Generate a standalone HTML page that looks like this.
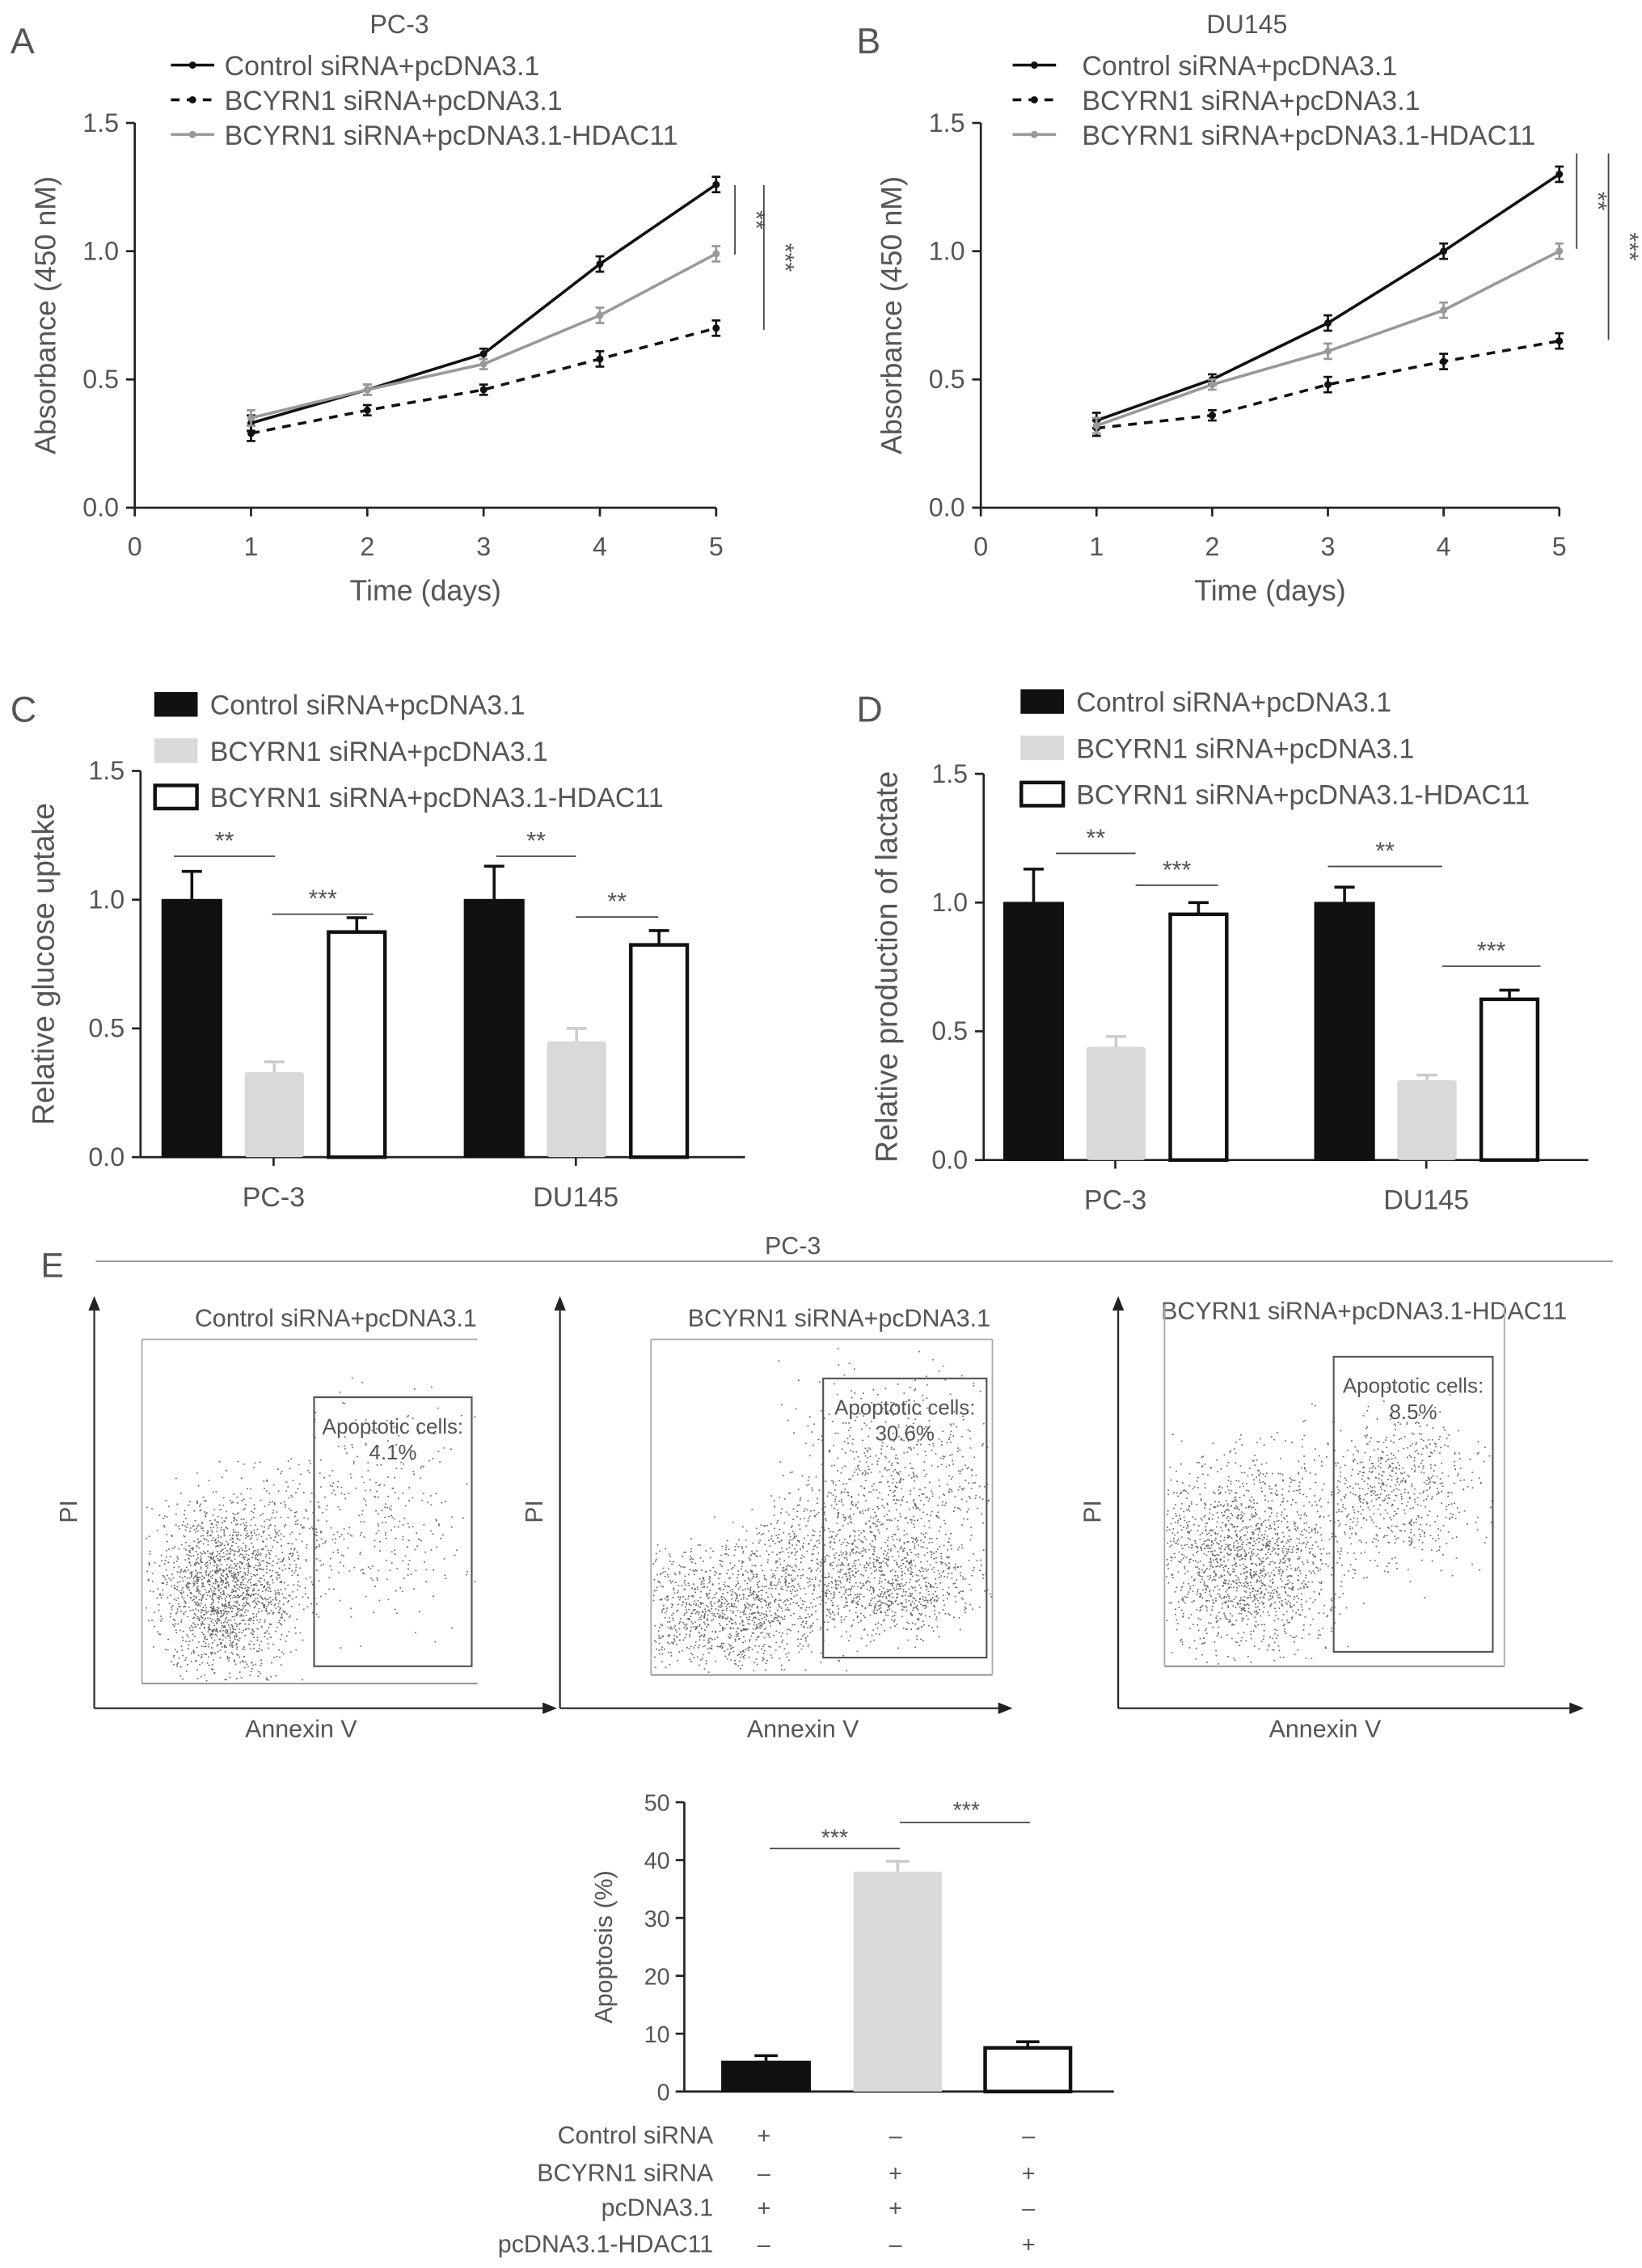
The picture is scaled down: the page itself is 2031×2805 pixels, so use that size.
<!DOCTYPE html>
<html><head><meta charset="utf-8"><style>
html,body{margin:0;padding:0;background:#fff}
svg{display:block;font-family:"Liberation Sans",Arial,sans-serif}
</style></head><body>
<svg id="fig" width="2031" height="2805" viewBox="0 0 1135 1568" xmlns="http://www.w3.org/2000/svg"></svg>
<script>
// ---------- data ----------
const days=[1,2,3,4,5];
const pc3Control=[0.33,0.46,0.60,0.95,1.26];
const pc3Bcyrn=[0.29,0.38,0.46,0.58,0.70];
const pc3Hdac=[0.35,0.46,0.56,0.75,0.99];
const pc3Err=[0.03,0.02,0.02,0.03,0.03];
const du145Control=[0.34,0.50,0.72,1.00,1.30];
const du145Bcyrn=[0.31,0.36,0.48,0.57,0.65];
const du145Hdac=[0.32,0.48,0.61,0.77,1.00];
const du145Err=[0.03,0.02,0.03,0.03,0.03];
const lineYTicks=[0,0.5,1.0,1.5];
const lineXTicks=[0,1,2,3,4,5];
const groups=["PC-3","DU145"];
const glucoseVals=[[1.00,0.33,0.88],[1.00,0.45,0.83]];
const glucoseErr=[[0.11,0.04,0.05],[0.13,0.05,0.05]];
const lactateVals=[[1.00,0.44,0.96],[1.00,0.31,0.63]];
const lactateErr=[[0.13,0.04,0.04],[0.06,0.02,0.03]];
const seriesNames=["Control siRNA+pcDNA3.1","BCYRN1 siRNA+pcDNA3.1","BCYRN1 siRNA+pcDNA3.1-HDAC11"];
const apopVals=[5.2,38.0,7.8];
const apopErr=[1.0,1.8,0.8];
const apopTicks=[0,10,20,30,40,50];
const apopPercent=["4.1%","30.6%","8.5%"];

const S=document.getElementById('fig');
const NS="http://www.w3.org/2000/svg";
function el(tag,attrs,name,txt){const e=document.createElementNS(NS,tag);for(const k in attrs)e.setAttribute(k,attrs[k]);


if(txt!==undefined)e.textContent=txt;S.appendChild(e);return e;}
function line(x1,y1,x2,y2,st,w,name,dash){const a={x1,y1,x2,y2,stroke:st,'stroke-width':w};if(dash)a['stroke-dasharray']=dash;return el('line',a,name);}
function text(x,y,t,size,name,anchor,fill,extra){const a={x,y,'font-size':size,fill:fill||'#444','text-anchor':anchor||'middle'};Object.assign(a,extra||{});return el('text',a,name,t);}
const TXT='#555';

// ---------- line panels ----------
function linePanel(o){
  const ys=v=>o.y0-(v/1.5)*(o.y0-o.y1);
  const xs=d=>o.x0+d*(o.x5-o.x0)/5;
  text(o.lx,37,o.letter,25,'panel-label-'+o.letter,'start',TXT);
  text(o.tx,23,o.title,18,'panel-title',undefined,TXT);
  line(o.x0,o.y1,o.x0,o.y0,'#222',1.5,'y-axis');
  line(o.x0,o.y0,o.x5,o.y0,'#222',1.5,'x-axis');
  lineYTicks.forEach(v=>{line(o.x0-6,ys(v),o.x0,ys(v),'#222',1.5,'y-tick');text(o.x0-11,ys(v)+6,v.toFixed(1),18,'y-tick-label','end',TXT);});
  lineXTicks.forEach(v=>{line(xs(v),o.y0,xs(v),o.y0+6,'#222',1.5,'x-tick');text(xs(v),o.y0+33,String(v),18,'x-tick-label',undefined,TXT);});
  text((o.x0+o.x5)/2,o.y0+64,'Time (days)',20,'x-axis-title',undefined,TXT);
  text(0,0,'Absorbance (450 nM)',20,'y-axis-title',undefined,TXT,{transform:`translate(${o.x0-55},${(o.y0+o.y1)/2}) rotate(-90)`});
  const sers=[[o.c,'#111',null,'control-line'],[o.b,'#111','6,5','bcyrn1-line'],[o.h,'#999',null,'hdac11-line']];
  sers.forEach((s,si)=>{
    const pts=days.map((d,i)=>xs(d)+','+ys(s[0][i])).join(' ');
    const a={points:pts,fill:'none',stroke:s[1],'stroke-width':2};if(s[2])a['stroke-dasharray']=s[2];
    el('polyline',a,s[3]);
    days.forEach((d,i)=>{const x=xs(d),y=ys(s[0][i]),e=o.err[i]*(o.y0-o.y1)/1.5;
      line(x,y-e,x,y+e,s[1],1.5,'error-bar');line(x-3,y-e,x+3,y-e,s[1],1.5,'error-cap');line(x-3,y+e,x+3,y+e,s[1],1.5,'error-cap');
      el('circle',{cx:x,cy:y,r:2.5,fill:s[1]},'data-point');});
    const ly=45+si*24;
    const la={x1:o.legx,y1:ly,x2:o.legx+30,y2:ly,stroke:s[1],'stroke-width':2};if(s[2])la['stroke-dasharray']=s[2];
    el('line',la,'legend-swatch');
    el('circle',{cx:o.legx+15,cy:ly,r:2.5,fill:s[1]},'legend-marker');
    text(o.legx+o.legtx,ly+7,seriesNames[si],19,'legend-entry','start',TXT);
  });
  o.sig.forEach(g=>{line(g[0],g[1],g[0],g[2],'#444',1,'significance-line');
    text(0,0,g[3],17,'significance-stars',undefined,TXT,{transform:`translate(${g[0]+9},${(g[1]+g[2])/2}) rotate(90)`});});
}
linePanel({letter:'A',lx:7,title:'PC-3',tx:276,x0:93,x5:495,y0:351,y1:85,c:pc3Control,b:pc3Bcyrn,h:pc3Hdac,err:pc3Err,legx:118,legtx:37,sig:[[508,128,176,'**'],[528,128,228,'***']]});
linePanel({letter:'B',lx:592,title:'DU145',tx:862,x0:678,x5:1078,y0:351,y1:85,c:du145Control,b:du145Bcyrn,h:du145Hdac,err:du145Err,legx:700,legtx:48,sig:[[1090,106,172,'**'],[1112,106,235,'***']]});

// ---------- bar panels ----------
const fills=['#111','#d9d9d9','#fff'];
function barPanel(o){
  const ys=v=>o.y0-(v/1.5)*(o.y0-o.y1);
  text(o.lx,499,o.letter,25,'panel-label-'+o.letter,'start',TXT);
  seriesNames.forEach((n,i)=>{const y=o.legy+i*32;
    el('rect',{x:o.legx,y:y-8,width:29,height:16,fill:fills[i],stroke:i==1?'#d9d9d9':'#111','stroke-width':i==2?2.5:1},'legend-swatch');
    text(o.legx+38,y+7,n,19,'legend-entry','start',TXT);});
  line(o.x0,o.y1,o.x0,o.y0,'#222',1.5,'y-axis');
  line(o.x0,o.y0,o.xe,o.y0,'#222',1.5,'x-axis');
  lineYTicks.forEach(v=>{line(o.x0-6,ys(v),o.x0,ys(v),'#222',1.5,'y-tick');text(o.x0-11,ys(v)+6,v.toFixed(1),18,'y-tick-label','end',TXT);});
  text(0,0,o.ytitle,21,'y-axis-title',undefined,TXT,{transform:`translate(${o.x0-60},${(o.y0+o.y1)/2}) rotate(-90)`});
  groups.forEach((g,gi)=>{
    const gx=o.gx[gi];
    line(gx,o.y0,gx,o.y0+6,'#222',1.5,'x-tick');
    text(gx,o.y0+34,g,19,'x-tick-label',undefined,TXT);
    o.vals[gi].forEach((v,i)=>{
      const x=gx-77+i*57, w=41, y=ys(v), e=o.err[gi][i]*(o.y0-o.y1)/1.5;
      const ec=i==1?'#ccc':'#111';
      line(x+w/2,y-e,x+w/2,y,ec,2,'error-bar');line(x+w/2-7,y-e,x+w/2+7,y-e,ec,2,'error-cap');
      el('rect',{x:i==2?x+1:x,y:i==2?y+1:y,width:i==2?w-2:w,height:o.y0-y-(i==2?1:0),fill:fills[i],stroke:i==1?'none':'#111','stroke-width':i==2?2.5:1,rx:i==1?2:0},'bar-'+g.toLowerCase()+'-'+i);
    });
  });
  o.sig.forEach(s=>{line(s[0],s[2],s[1],s[2],'#444',1,'significance-line');text((s[0]+s[1])/2,s[2]-5,s[3],17,'significance-stars',undefined,TXT);});
}
barPanel({letter:'C',lx:7,legx:107,legy:487,x0:97,xe:515,y0:800,y1:533,gx:[189,398],vals:glucoseVals,err:glucoseErr,ytitle:'Relative glucose uptake',
  sig:[[120,190,592,'**'],[188,258,632,'***'],[343,398,592,'**'],[398,455,634,'**']]});
barPanel({letter:'D',lx:592,legx:706,legy:485,x0:680,xe:1098,y0:802,y1:535,gx:[771,986],vals:lactateVals,err:lactateErr,ytitle:'Relative production of lactate',
  sig:[[730,785,590,'**'],[785,842,612,'***'],[918,997,599,'**'],[997,1065,668,'***']]});

// ---------- flow cytometry panel ----------
text(28,883,'E',24,'panel-label-E','start',TXT);
text(548,867,'PC-3',17,'panel-title',undefined,TXT);
line(66,872,1115,872,'#999',1.2,'header-line');
// density cloud parameters: [cx,cy,sx,sy,count]
const flowClusters=[
  [[155,1098,32,42,1700],[265,1045,40,50,300],[200,1060,30,40,200]],
  [[505,1112,50,30,1200],[620,1098,40,24,700],[618,1030,52,52,800],[560,1070,40,30,300]],
  [[860,1078,45,48,1700],[965,1030,42,36,650]]];
const flowTitles=seriesNames;
const flowGeo=[
  {ax:65,xe:375,bx:98,bw:232,bt:926,bb:1164,gx:217,gw:109,gt:966,gb:1152,tx:232,ty:917,lx:208,top:true,right:false},
  {ax:387,xe:690,bx:450,bw:236,bt:926,bb:1158,gx:569,gw:113,gt:953,gb:1146,tx:580,ty:917,lx:555,top:true,right:true},
  {ax:773,xe:1085,bx:805,bw:235,bt:902,bb:1152,gx:922,gw:110,gt:938,gb:1142,tx:943,ty:912,lx:916,top:false,right:true}];
let seed=12345;function rnd(){seed=(seed*16807)%2147483647;return seed/2147483647;}
function gauss(){return (rnd()+rnd()+rnd()+rnd()-2)*1.2;}
flowGeo.forEach((g,pi)=>{
  line(g.ax,1181,g.ax,906,'#222',1.2,'pi-axis');
  el('polygon',{points:`${g.ax-4},906 ${g.ax+4},906 ${g.ax},896`,fill:'#222'},'pi-axis-arrow');
  line(g.ax,1181,g.xe,1181,'#222',1.2,'annexin-axis');
  el('polygon',{points:`${g.xe},1177 ${g.xe},1185 ${g.xe+10},1181`,fill:'#222'},'annexin-axis-arrow');
  text(0,0,'PI',17,'pi-axis-title',undefined,TXT,{transform:`translate(${g.ax-12},1045) rotate(-90)`});
  text(g.lx,1201,'Annexin V',17,'annexin-axis-title',undefined,TXT);
  text(g.tx,g.ty,flowTitles[pi],17,'flow-title',undefined,TXT);
  if(g.top)line(g.bx,g.bt,g.bx+g.bw,g.bt,'#aaa',1,'plot-frame-top');
  line(g.bx,g.bt,g.bx,g.bb,'#aaa',1,'plot-frame-left');
  line(g.bx,g.bb,g.bx+g.bw,g.bb,'#888',1,'plot-frame-bottom');
  if(g.right)line(g.bx+g.bw,g.bt,g.bx+g.bw,g.bb,'#aaa',1,'plot-frame-right');
  let d='';
  flowClusters[pi].forEach(c=>{for(let i=0;i<c[4];i++){const x=c[0]+gauss()*c[2],y=c[1]+gauss()*c[3];
    if(x>g.bx+1&&x<g.bx+g.bw-1&&y>g.bt+1&&y<g.bb-1)d+=`M${x.toFixed(1)} ${y.toFixed(1)}h1`;}});
  el('path',{d,stroke:'#333','stroke-width':0.9,fill:'none','stroke-opacity':0.75},'flow-dots');
  el('rect',{x:g.gx,y:g.gt,width:g.gw,height:g.gb-g.gt,fill:'none',stroke:'#555','stroke-width':1.2},'apoptotic-gate');
  text(g.gx+g.gw/2,g.gt+25,'Apoptotic cells:',14.5,'gate-label',undefined,TXT);
  text(g.gx+g.gw/2,g.gt+43,apopPercent[pi],14.5,'gate-percent',undefined,TXT);
});

// ---------- apoptosis bar chart ----------
(function(){
  const x0=473,xe=770,y0=1446,y1=1246;
  const ys=v=>y0-(v/50)*(y0-y1);
  line(x0,y1,x0,y0,'#222',1.5,'y-axis');line(x0,y0,xe,y0,'#222',1.5,'x-axis');
  apopTicks.forEach(v=>{line(x0-6,ys(v),x0,ys(v),'#222',1.5,'y-tick');text(x0-10,ys(v)+6,String(v),16,'y-tick-label','end',TXT);});
  text(0,0,'Apoptosis (%)',17,'y-axis-title',undefined,TXT,{transform:`translate(${x0-50},${(y0+y1)/2}) rotate(-90)`});
  const bx=[499,590,680];
  apopVals.forEach((v,i)=>{const y=ys(v),e=apopErr[i]*(y0-y1)/50,x=bx[i],w=61,ec=i==1?'#ccc':'#111';
    line(x+w/2,y-e,x+w/2,y,ec,2,'error-bar');line(x+w/2-8,y-e,x+w/2+8,y-e,ec,2,'error-cap');
    el('rect',{x:i==2?x+1:x,y:i==2?y+1:y,width:i==2?w-2:w,height:y0-y-(i==2?1:0),fill:fills[i],stroke:i==1?'none':'#111','stroke-width':i==2?2.5:1},'apoptosis-bar-'+i);});
  line(532,1278,622,1278,'#444',1,'significance-line');text(577,1276,'***',16,'significance-stars',undefined,TXT);
  line(622,1260,712,1260,'#444',1,'significance-line');text(668,1257,'***',16,'significance-stars',undefined,TXT);
  const rows=["Control siRNA","BCYRN1 siRNA","pcDNA3.1","pcDNA3.1-HDAC11"];
  const signs=[["+","–","–"],["–","+","+"],["+","+","–"],["–","–","+"]];
  const ry=[1482,1508,1532,1557];const sx=[528,619,711];
  rows.forEach((r,ri)=>{text(493,ry[ri],r,17,'condition-label','end',TXT);
    signs[ri].forEach((s,ci)=>text(sx[ci],ry[ri],s,16,'condition-sign',undefined,TXT));});
})();
</script>
</body></html>
